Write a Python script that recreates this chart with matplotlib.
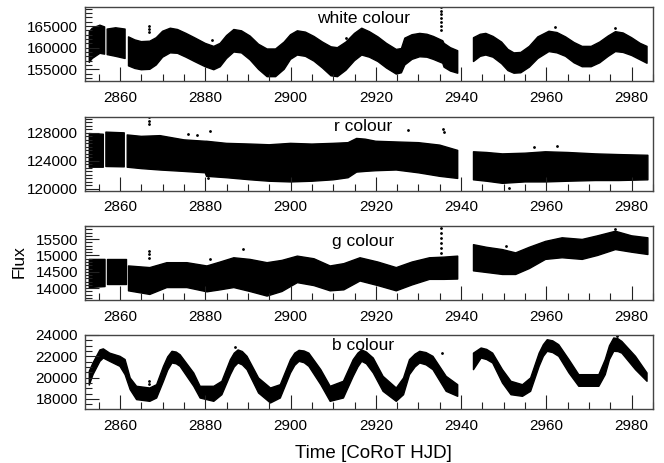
import numpy as np
import matplotlib
matplotlib.use('Agg')
import matplotlib.pyplot as plt
from matplotlib.ticker import MultipleLocator

plt.rcParams['font.family'] = ['Liberation Sans', 'DejaVu Sans']

nan = np.nan

# --- white colour: time knots, upper and lower edge of the point cloud (nan = data gap)
t_white = [2852.8, 2853.5, 2855.3, 2856.4, 2856.7, 2857.0, 2859.0, 2861.2, 2861.6,
           2862.0, 2863.5, 2865.0, 2867.0, 2868.5, 2870.0, 2871.8, 2873.5, 2875.5,
           2877.5, 2880.0, 2882.0, 2883.5, 2885.0, 2886.7, 2888.5, 2890.5, 2892.5,
           2894.5, 2896.5, 2898.5, 2900.0, 2901.6, 2903.5, 2905.5, 2907.5, 2909.5,
           2911.0, 2913.0, 2915.0, 2916.7, 2918.5, 2920.5, 2922.5, 2924.8, 2926.0,
           2926.8, 2928.5, 2930.3, 2932.0, 2933.5, 2935.7, 2936.0, 2937.5, 2939.2,
           2941.0, 2942.9, 2944.5, 2945.8, 2947.5, 2949.5, 2951.0, 2952.4, 2954.0,
           2956.0, 2958.0, 2960.6, 2962.5, 2964.5, 2966.5, 2968.4, 2970.5, 2972.5,
           2974.5, 2976.2, 2978.0, 2980.0, 2982.0, 2983.6]
hi_white = [163700, 164500, 165200, 164800, nan, 164300, 164600, 164300, nan,
            162500, 161800, 161400, 161500, 162300, 163800, 164500, 164200, 163300,
            162300, 161000, 160300, 161000, 162800, 164200, 163900, 162700, 160800,
            159700, 159700, 161300, 163000, 163900, 163600, 162600, 161300, 160200,
            160000, 161300, 163300, 164500, 163700, 162500, 161000, 159600, 159800,
            162200, 163000, 163300, 163100, 162600, 161600, 161000, 160000, 159300,
            nan, 162300, 163100, 163300, 162600, 161300, 159600, 158800, 158900,
            160300, 162500, 163800, 163500, 162500, 161200, 160300, 160300, 161300,
            162700, 163700, 163400, 162300, 161000, 160300]
lo_white = [156600, 157500, 158700, 158500, nan, 158400, 158000, 157500, nan,
            155800, 155200, 154900, 155000, 156000, 157800, 158800, 158700, 157800,
            156800, 155600, 154900, 155600, 157500, 159000, 158800, 157200, 155000,
            153300, 153300, 155000, 157300, 158300, 158000, 156900, 155300, 153500,
            153300, 154800, 157000, 158300, 157800, 156800, 155300, 153900, 154200,
            156000, 157300, 157900, 157800, 157300, 156400, 155500, 154600, 154100,
            nan, 156800, 158000, 158300, 157800, 156300, 154700, 154100, 154200,
            155500, 157500, 159100, 158800, 158000, 156500, 155600, 155600, 156500,
            158000, 159100, 158900, 158200, 157200, 156400]
out_white_t = [2866.9, 2866.9, 2866.9, 2935.3, 2935.3, 2935.3, 2935.3, 2935.3, 2935.3,
               2935.3, 2881.5, 2913.0, 2962.0, 2976.0]
out_white_f = [165000, 164300, 163600, 169300, 168500, 167700, 166800, 165900, 165000,
               164200, 161800, 162300, 164800, 164600]

# --- r colour
t_r = [2852.8, 2856.1, 2856.4, 2856.7, 2861.0, 2861.4, 2861.7, 2865.0, 2869.4, 2875.0,
       2880.0, 2880.3, 2885.0, 2890.6, 2895.0, 2900.0, 2905.0, 2910.0, 2913.5, 2915.5,
       2917.5, 2920.0, 2924.8, 2930.0, 2935.0, 2939.2, 2941.0, 2942.9, 2946.0, 2949.7,
       2955.0, 2959.8, 2965.0, 2971.5, 2977.0, 2983.8]
hi_r = [127900, 127800, nan, 128100, 128000, nan, 127700, 127500, 127600, 127000,
        126800, 126800, 126500, 126400, 126300, 126500, 126400, 126500, 126600, 127200,
        127100, 126800, 126700, 126600, 126250, 125500, nan, 125300, 125200, 125000,
        125100, 125300, 125200, 125000, 124900, 124800]
lo_r = [123100, 123100, nan, 123200, 123150, nan, 123100, 122900, 122700, 122500,
        122300, 121800, 121600, 121300, 121100, 121000, 121100, 121300, 121600, 122400,
        122500, 122600, 122700, 122300, 121800, 121500, nan, 121300, 121100, 120800,
        121000, 121000, 121100, 121200, 121200, 121300]
out_r_t = [2866.9, 2866.9, 2866.9, 2876.0, 2878.0, 2881.2, 2880.7, 2927.5, 2935.7, 2936.1,
           2951.3, 2957.0, 2962.5]
out_r_f = [130200, 129700, 129200, 127800, 127700, 128300, 121500, 128400, 128600, 128100,
           120100, 126000, 126100]

# --- g colour
t_g = [2852.8, 2856.5, 2856.7, 2857.0, 2861.3, 2861.6, 2862.0, 2867.0, 2871.0, 2875.7,
       2880.4, 2883.5, 2886.7, 2890.5, 2894.5, 2898.0, 2901.6, 2905.5, 2909.3, 2912.5,
       2916.3, 2920.5, 2924.8, 2928.5, 2932.6, 2936.0, 2939.2, 2941.0, 2942.9, 2946.0,
       2949.7, 2952.8, 2956.0, 2959.8, 2963.7, 2968.4, 2972.0, 2976.2, 2980.0, 2983.8]
hi_g = [14880, 14880, nan, 14880, 14880, nan, 14680, 14630, 14780, 14780,
        14680, 14800, 14930, 14880, 14780, 14850, 14980, 14900, 14680, 14750,
        14930, 14800, 14630, 14800, 14930, 14950, 14980, nan, 15330, 15250,
        15180, 15080, 15250, 15430, 15540, 15490, 15600, 15740, 15600, 15540]
lo_g = [14020, 14050, nan, 14120, 14120, nan, 13920, 13810, 14020, 14020,
        13890, 13950, 14020, 13900, 13760, 13900, 14170, 14080, 13920, 13950,
        14220, 14080, 13920, 14100, 14270, 14270, 14280, nan, 14530, 14480,
        14420, 14420, 14600, 14880, 14930, 14880, 15000, 15180, 15100, 15030]
out_g_t = [2866.9, 2866.9, 2866.9, 2888.9, 2935.3, 2935.3, 2935.3, 2935.3, 2935.3, 2935.3,
           2976.0, 2950.5, 2881.0]
out_g_f = [15130, 15030, 14930, 15210, 15840, 15680, 15530, 15380, 15230, 15080,
           15820, 15300, 14900]

# --- b colour
t_b = [2852.8, 2853.7, 2855.3, 2856.1, 2857.6, 2860.0, 2861.2, 2862.4, 2863.9, 2867.0,
       2868.6, 2870.2, 2871.2, 2872.2, 2873.2, 2874.1, 2877.3, 2878.8, 2882.0, 2883.9,
       2885.9, 2886.8, 2887.7, 2888.7, 2889.8, 2892.5, 2895.3, 2897.6, 2900.0, 2901.0,
       2902.0, 2903.2, 2904.3, 2907.1, 2909.3, 2912.4, 2914.7, 2915.8, 2916.7, 2917.8,
       2919.4, 2921.7, 2924.8, 2926.5, 2927.9, 2929.2, 2930.3, 2931.8, 2933.4, 2936.5,
       2939.2, 2941.0, 2942.9, 2944.7, 2946.0, 2947.4, 2949.7, 2951.7, 2954.4, 2956.3,
       2958.3, 2959.3, 2960.2, 2961.5, 2962.9, 2965.3, 2967.6, 2969.9, 2972.3, 2973.8,
       2974.8, 2975.8, 2976.8, 2977.7, 2980.9, 2983.6]
hi_b = [20600, 21400, 22600, 22700, 22300, 22000, 21700, 19970, 19190, 19030,
        19340, 21060, 21950, 22470, 22400, 22150, 20440, 19190, 19190, 19660,
        21690, 22300, 22600, 22450, 22000, 19970, 19030, 19340, 21690, 22300,
        22560, 22500, 22300, 20750, 19190, 19660, 21690, 22300, 22600, 22400,
        21840, 20125, 19030, 19970, 21690, 22200, 22470, 22350, 22000, 20125,
        19340, nan, 22300, 22780, 22650, 22300, 20750, 19660, 19340, 19970,
        22300, 23100, 23560, 23450, 23090, 21690, 20280, 20280, 20280, 21690,
        23000, 23720, 23650, 23400, 22000, 20440]
lo_b = [19300, 20300, 21530, 21840, 21530, 21060, 20280, 18875, 17940, 17780,
        18090, 19660, 20700, 21375, 21300, 21060, 19190, 18090, 17780, 18400,
        20280, 21000, 21375, 21200, 20750, 18560, 17625, 18090, 20440, 21150,
        21530, 21400, 21060, 19340, 17780, 18090, 20125, 21000, 21530, 21300,
        20440, 18720, 17780, 18400, 20280, 21000, 21375, 21200, 20750, 18720,
        18250, nan, 20750, 21840, 21700, 21375, 19500, 18400, 18250, 18720,
        21060, 22000, 22470, 22350, 22000, 20440, 19190, 19190, 19190, 20280,
        21700, 22470, 22450, 22300, 20750, 19660]
out_b_t = [2866.9, 2866.9, 2887.0, 2935.5, 2976.5]
out_b_f = [19660, 19400, 22900, 22300, 23900]

panels = [
    ('white colour', t_white, hi_white, lo_white, out_white_t, out_white_f,
     (152300, 169400), [155000, 160000, 165000], 1000, 0.78),
    ('r colour', t_r, hi_r, lo_r, out_r_t, out_r_f,
     (119750, 130300), [120000, 124000, 128000], 500, 0.80),
    ('g colour', t_g, hi_g, lo_g, out_g_t, out_g_f,
     (13640, 15900), [14000, 14500, 15000, 15500], 100, 0.73),
    ('b colour', t_b, hi_b, lo_b, out_b_t, out_b_f,
     (17060, 24000), [18000, 20000, 22000, 24000], 500, 0.80),
]

fig = plt.figure(figsize=(6.64, 4.63), dpi=100)
left, width = 85 / 664, 568 / 664
tops = [7, 116.7, 226, 335]
height = 74 / 463

for (label, t, hi, lo, ot, of, ylim, yt, ymin, ytxt), top in zip(panels, tops):
    ax = fig.add_axes([left, 1 - (top + 74) / 463, width, height])
    ax.fill_between(t, lo, hi, color='black', linewidth=1.0, edgecolor='black')
    ax.plot(ot, of, ls='none', marker='o', ms=1.0, color='black')
    ax.set_xlim(2851.8, 2985)
    ax.set_ylim(*ylim)
    ax.set_xticks([2860, 2880, 2900, 2920, 2940, 2960, 2980])
    ax.xaxis.set_minor_locator(MultipleLocator(5))
    ax.set_yticks(yt)
    ax.yaxis.set_minor_locator(MultipleLocator(ymin))
    ax.tick_params(which='both', direction='in', top=False, right=False,
                   labelsize=11, color='#222222')
    ax.tick_params(which='major', length=10, width=0.8)
    ax.tick_params(which='minor', length=5, width=0.8)
    ax.tick_params(axis='x', pad=7)
    ax.tick_params(axis='y', pad=5)
    for s in ax.spines.values():
        s.set_color('#444444')
        s.set_linewidth(1.0)
    ax.text(0.49, ytxt, label, transform=ax.transAxes, ha='center',
            va='baseline', fontsize=12.5)

fig.text(373 / 664, 1 - 453 / 463, 'Time [CoRoT HJD]', ha='center', va='center',
         fontsize=13.5)
fig.text(19 / 664, 1 - 262 / 463, 'Flux', rotation=90, ha='center', va='center',
         fontsize=12.5)

fig.savefig('out.png', dpi=100)
